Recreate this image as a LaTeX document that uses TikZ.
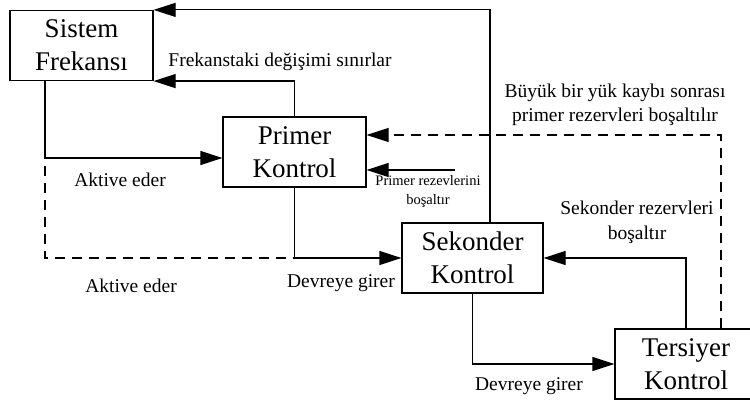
\documentclass[tikz,border=0pt]{standalone}
\usepackage{fontspec}
\setmainfont{Liberation Serif}
\usetikzlibrary{arrows.meta,calc}
\begin{document}
\begin{tikzpicture}[x=1pt,y=-1pt,
  box/.style={draw,line width=1.2pt,minimum width=143pt,minimum height=70pt,inner sep=0pt,align=center,font=\fontsize{27}{33}\selectfont},
  lbl/.style={inner sep=0pt,align=center,font=\fontsize{19.5}{24}\selectfont},
  small/.style={inner sep=0pt,align=center,font=\fontsize{14.5}{19}\selectfont},
  arr/.style={line width=1.2pt,-{Triangle[length=22pt,width=14pt]}},
  ln/.style={line width=1.2pt},
  dsh/.style={line width=1.2pt,dash pattern=on 10pt off 7pt}]
\useasboundingbox (0,0) rectangle (750,401);
\node[box] (sis) at (81.5,45.5) {Sistem\\Frekansı};
\node[box] (pri) at (294.5,152) {Primer\\Kontrol};
\node[box,minimum width=141pt] (sek) at (472.5,258) {Sekonder\\Kontrol};
\node[box,minimum width=142pt] (ter) at (686,364) {Tersiyer\\Kontrol};
\coordinate (ps) at (455,170);
% connectors
\draw[arr] ([xshift=17.5pt]sek.north) |- (sis.north east);
\draw[arr] (pri.north) |- (sis.south east);
\draw[arr] ([xshift=-36.5pt]sis.south) |- ([yshift=-6pt]pri.west);
\draw[dsh] ([xshift=-36.5pt]sis.south) |- (pri.south |- sek.west);
\draw[arr] (pri.south) |- (sek.west);
\draw[dsh,-{Triangle[length=22pt,width=14pt]}] ([xshift=35pt]ter.north) |- ([yshift=17pt]pri.east);
\draw[arr] (ps) -- (ps -| pri.east);
\draw[arr] (ter.north) |- (sek.east);
\draw[arr] (sek.south) |- (ter.west);
% labels
\node[lbl] (l1) at (280,62) {Frekanstaki değişimi sınırlar};
\node[lbl] (l2) at (120,180) {Aktive eder};
\node[lbl] (l3) at (131,286) {Aktive eder};
\node[lbl] (l4) at (341,283) {Devreye girer};
\node[lbl] (l5) at (529,386) {Devreye girer};
\node[lbl] (l6) at (615,105) {Büyük bir yük kaybı sonrası\\primer rezervleri boşaltılır};
\node[lbl,font=\fontsize{19.5}{25}\selectfont] (l7) at (637,222) {Sekonder rezervleri\\boşaltır};
\node[small] (l8) at (428,192) {Primer rezevlerini\\boşaltır};
\end{tikzpicture}
\end{document}
